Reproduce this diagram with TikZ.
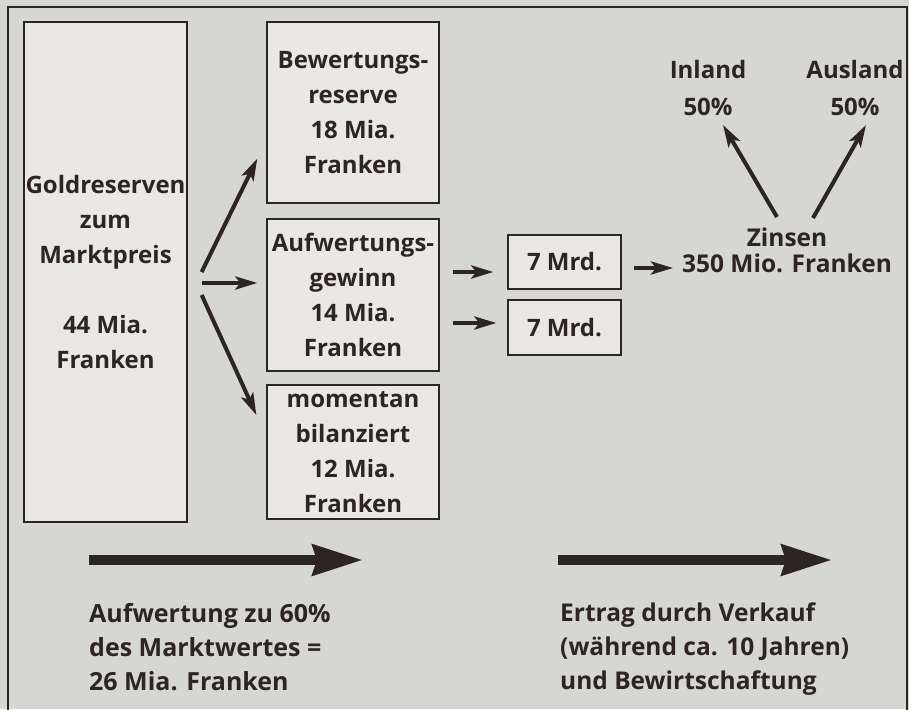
\documentclass[tikz,border=0pt]{standalone}
\usepackage{fontspec}
\setmainfont{Open Sans}
\usepackage{xcolor}
\usetikzlibrary{
  arrows.meta,
  positioning}
\definecolor{ink}{RGB}{45,36,36}
\definecolor{paper}{RGB}{214,214,210}
\definecolor{boxfill}{RGB}{234,232,227}

\begin{document}
\begin{tikzpicture}[
  x=1pt, y=-1pt,
  every node/.style={text=ink, font=\bfseries\fontsize{24}{35}\selectfont, align=center, inner sep=0pt},
  card/.style={draw=ink, line width=1.3pt, fill=boxfill, minimum width=172pt},
  arr/.style={draw=ink, line width=4pt, -{Stealth[length=22pt,width=13pt,inset=5pt]}},
  bigarr/.style={draw=ink, line width=10pt, -{Stealth[length=50pt,width=30pt,inset=4pt]}},
  caption/.style={anchor=north west, align=left, font=\bfseries\fontsize{25}{34}\selectfont}]
\useasboundingbox (0,0) rectangle (909,709);
\clip (0,0) rectangle (909,709);
\fill[paper] (0,0) rectangle (909,709);
\draw[ink, line width=1.2pt] (8,7) rectangle (907,740);

\node[card, minimum width=163pt, minimum height=500pt] (gold) at (105.5,272)
  {Goldreserven\\zum\\Marktpreis\\[35pt]44 Mia.\\Franken};
\node[card, minimum height=181pt] (bew) at (353,112.5)
  {Bewertungs-\\reserve\\18 Mia.\\Franken};
\node[card, minimum height=152pt] (aufw) at (353,295)
  {Aufwertungs-\\gewinn\\14 Mia.\\Franken};
\node[card, minimum height=134pt] (mom) at (353,452)
  {momentan\\bilanziert\\12 Mia.\\Franken};
\node[card, minimum width=113pt, minimum height=54pt] (mrdA) at (564.5,262) {7 Mrd.};
\node[card, minimum width=113pt, minimum height=55pt] (mrdB) at (564.5,327.5) {7 Mrd.};
\node[font=\bfseries\fontsize{24.5}{26}\selectfont] (zins) at (787,250) {Zinsen\\350 Mio. Franken};
\node[font=\bfseries\fontsize{24}{37}\selectfont] (inland) at (708,88) {Inland\\50\%};
\node[font=\bfseries\fontsize{24}{37}\selectfont] (ausland) at (855,88) {Ausland\\50\%};

\draw[arr] ([shift={(14,0)}]gold.east) -- ([shift={(-9,46)}]bew.west);
\draw[arr] ([shift={(14,11)}]gold.east) -- ([shift={(-9,-12)}]aufw.west);
\draw[arr] ([shift={(14,23)}]gold.east) -- ([shift={(-10,-37)}]mom.west);
\draw[arr] ([shift={(13,-23)}]aufw.east) -- ([shift={(-14,10)}]mrdA.west);
\draw[arr] ([shift={(13,28)}]aufw.east) -- ([shift={(-11,-4.5)}]mrdB.west);
\draw[arr] ([shift={(12,6)}]mrdA.east) -- ([shift={(-114,18)}]zins.center);
\draw[arr] ([shift={(-10,-33)}]zins.center) -- ([shift={(15,37)}]inland.center);
\draw[arr] ([shift={(26,-32)}]zins.center) -- ([shift={(11,37)}]ausland.center);

\coordinate (revA) at (89,560);
\coordinate (revB) at (363,560);
\coordinate (sellA) at (558,560);
\coordinate (sellB) at (832,560);
\draw[bigarr] (revA) -- (revB);
\draw[bigarr] (sellA) -- (sellB);

\node[caption] (revtext) at (89,603)
  {Aufwertung zu 60\%\\des Marktwertes =\\26 Mia. Franken};
\node[caption, font=\bfseries\fontsize{24.5}{34}\selectfont] (selltext) at (560,603)
  {Ertrag durch Verkauf\\(während ca. 10 Jahren)\\und Bewirtschaftung};
\end{tikzpicture}
\end{document}
